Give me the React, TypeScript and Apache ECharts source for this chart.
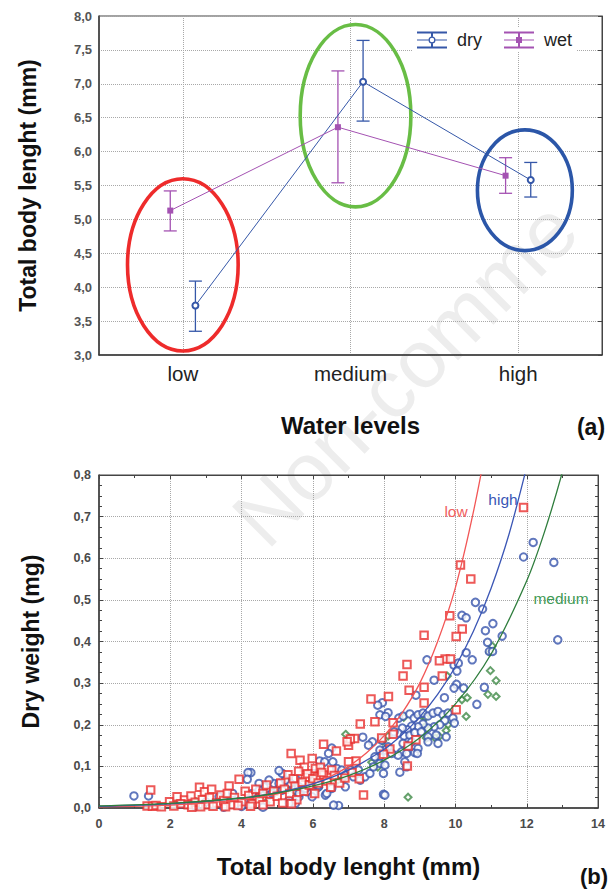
import React, { useEffect, useRef } from 'react';
import * as echarts from 'echarts';

// ---------- (a) water level means with error bars ----------
const WATER_LEVELS = ['low', 'medium', 'high'];
const DRY_MEAN = [3.73, 7.03, 5.58];
const DRY_LOWER = [3.35, 6.45, 5.33];
const DRY_UPPER = [4.09, 7.64, 5.84];
const WET_MEAN = [5.13, 6.36, 5.645];
const WET_LOWER = [4.83, 5.54, 5.385];
const WET_UPPER = [5.42, 7.19, 5.91];

// highlight ellipses (level index, length in mm, half-width in level units, half-height in mm)
const HL_LEVEL = [0, 1.03, 2.04];
const HL_LENGTH = [4.33, 6.53, 5.43];
const HL_HALF_W = [0.33, 0.33, 0.283];
const HL_HALF_H = [1.27, 1.345, 0.89];
const HL_COLORS = ['#ee2b2b', '#68bd45', '#2b56a8'];

// ---------- (b) dry weight vs total body length ----------
const LOW_POINTS = [
  [11.91, 0.722], [10.14, 0.584], [10.43, 0.55], [9.84, 0.462], [10.19, 0.43], [10.02, 0.412], [9.12, 0.415],
  [9.71, 0.358], [9.86, 0.358], [9.55, 0.354], [8.64, 0.345], [8.53, 0.317], [9.63, 0.317], [8.7, 0.283],
  [9.12, 0.29], [8.12, 0.268], [9.12, 0.252], [10.02, 0.236], [8.25, 0.205], [7.93, 0.168], [8.25, 0.177],
  [8.16, 0.142], [7.98, 0.129], [8.67, 0.149], [8.89, 0.164], [8.65, 0.101], [7.63, 0.262], [7.33, 0.202],
  [7.74, 0.207], [7.0, 0.151], [7.17, 0.167], [7.05, 0.166], [6.96, 0.159], [6.3, 0.153], [6.66, 0.137],
  [5.39, 0.131], [5.64, 0.115], [5.76, 0.098], [5.79, 0.074], [6.07, 0.095], [6.21, 0.098], [6.12, 0.075],
  [6.3, 0.079], [6.53, 0.091], [7.21, 0.113], [7.0, 0.111], [7.42, 0.031], [5.98, 0.119],
  [1.45, 0.043], [1.35, 0.005], [1.5, 0.004], [1.6, 0.006], [1.75, 0.003], [1.98, 0.015], [2.19, 0.027],
  [2.4, 0.019], [2.58, 0.029], [2.82, 0.05], [2.96, 0.039], [3.16, 0.045], [3.42, 0.031], [3.65, 0.053],
  [3.93, 0.069], [2.1, 0.005], [2.3, 0.01], [2.5, 0.008], [2.7, 0.014], [2.9, 0.02], [3.0, 0.008],
  [3.1, 0.025], [3.3, 0.012], [3.5, 0.018], [3.6, 0.035], [3.7, 0.008], [3.8, 0.025], [4.0, 0.015],
  [4.1, 0.04], [4.2, 0.03], [4.3, 0.01], [4.4, 0.045], [4.5, 0.022], [4.6, 0.035], [4.7, 0.055],
  [4.8, 0.015], [4.9, 0.04], [5.0, 0.028], [5.1, 0.06], [5.15, 0.012], [5.2, 0.045], [5.3, 0.08],
  [5.35, 0.035], [5.45, 0.07], [5.5, 0.052], [5.55, 0.02], [5.6, 0.088], [5.7, 0.062], [5.75, 0.04],
  [5.85, 0.082], [5.9, 0.055], [6.0, 0.07], [6.05, 0.035], [6.15, 0.06], [6.25, 0.085], [6.4, 0.065],
  [6.5, 0.05], [6.6, 0.078], [6.75, 0.06], [6.9, 0.072], [7.1, 0.085], [7.3, 0.07], [2.6, 0.002],
  [3.2, 0.004], [3.9, 0.006], [4.6, 0.008], [5.4, 0.01], [4.25, 0.004], [2.85, 0.003], [3.55, 0.003],
];
const HIGH_POINTS = [
  [12.18, 0.638], [11.91, 0.603], [12.76, 0.59], [10.56, 0.494], [10.76, 0.478], [10.18, 0.463], [10.3, 0.457],
  [11.05, 0.443], [10.84, 0.426], [11.31, 0.413], [12.87, 0.404], [10.9, 0.398], [10.95, 0.376], [11.04, 0.376],
  [10.3, 0.373], [9.96, 0.343], [10.08, 0.348], [10.47, 0.356], [9.2, 0.356], [10.04, 0.329], [10.03, 0.297],
  [10.23, 0.288], [8.89, 0.271], [9.4, 0.307], [9.69, 0.265], [9.96, 0.288], [10.81, 0.29], [10.6, 0.249],
  [7.95, 0.253], [8.11, 0.229], [7.88, 0.224], [8.04, 0.22], [8.41, 0.216], [8.53, 0.221], [8.72, 0.226],
  [8.84, 0.216], [8.95, 0.224], [9.09, 0.228], [9.23, 0.221], [9.37, 0.228], [9.51, 0.232], [9.65, 0.224],
  [9.79, 0.228], [9.93, 0.216], [9.97, 0.204], [9.7, 0.21], [9.56, 0.2], [9.4, 0.195], [9.23, 0.192],
  [9.09, 0.202], [8.95, 0.195], [8.77, 0.197], [8.65, 0.188], [8.51, 0.192], [8.39, 0.18], [8.28, 0.183],
  [8.56, 0.173], [8.72, 0.175], [8.86, 0.181], [9.04, 0.183], [9.23, 0.171], [9.46, 0.175], [9.74, 0.171],
  [8.77, 0.159], [8.53, 0.155], [8.67, 0.147], [8.49, 0.135], [8.63, 0.131], [8.86, 0.133], [8.95, 0.143],
  [9.23, 0.159], [9.51, 0.155], [8.39, 0.127], [8.11, 0.147], [8.21, 0.131], [7.93, 0.163], [8.02, 0.139],
  [7.88, 0.123], [8.58, 0.111], [8.63, 0.099], [8.93, 0.131], [8.44, 0.086], [7.98, 0.033], [8.02, 0.031],
  [7.82, 0.247], [7.4, 0.17], [7.67, 0.159], [7.56, 0.151], [7.74, 0.123], [7.88, 0.107], [8.02, 0.103],
  [7.88, 0.139], [6.53, 0.144], [6.44, 0.131], [6.19, 0.113], [6.33, 0.111], [6.56, 0.111], [6.67, 0.095],
  [6.81, 0.091], [6.91, 0.079], [7.05, 0.091], [7.14, 0.075], [7.33, 0.067], [7.46, 0.075], [7.6, 0.083],
  [7.28, 0.091], [7.7, 0.099], [7.98, 0.083], [6.21, 0.087], [6.02, 0.083], [5.93, 0.055], [5.84, 0.071],
  [5.7, 0.063], [5.61, 0.051], [5.51, 0.071], [5.37, 0.059], [5.23, 0.067], [5.14, 0.083], [5.05, 0.09],
  [4.91, 0.059], [4.77, 0.067], [4.63, 0.051], [4.49, 0.059], [4.26, 0.085], [4.18, 0.085], [4.16, 0.069],
  [5.33, 0.019], [5.61, 0.027], [6.02, 0.035], [6.35, 0.031], [6.72, 0.006], [4.3, 0.035], [4.77, 0.031],
  [5.14, 0.043], [5.51, 0.011], [5.84, 0.039], [6.16, 0.051], [6.53, 0.047], [6.91, 0.051], [3.0, 0.015],
  [3.37, 0.027], [3.75, 0.035], [4.26, 0.015], [4.49, 0.043], [4.86, 0.035], [5.05, 0.059], [5.33, 0.011],
  [5.61, 0.035], [5.79, 0.047], [5.98, 0.027], [6.16, 0.055], [6.39, 0.035], [6.58, 0.007], [2.3, 0.01],
  [2.7, 0.004], [3.2, 0.008], [3.5, 0.002], [4.0, 0.004], [4.6, 0.002], [0.98, 0.029], [1.39, 0.029],
];
const MEDIUM_POINTS = [
  [11.03, 0.389], [10.96, 0.374], [9.77, 0.317], [10.98, 0.33], [10.91, 0.273], [11.14, 0.268], [11.14, 0.306],
  [10.18, 0.26], [10.33, 0.265], [10.3, 0.22], [8.67, 0.026], [8.11, 0.173], [8.55, 0.218], [9.14, 0.195],
  [9.18, 0.168], [9.79, 0.2], [9.74, 0.186], [9.55, 0.172], [9.06, 0.221], [9.16, 0.218], [9.43, 0.168],
  [6.92, 0.177], [7.96, 0.161], [7.65, 0.11], [7.82, 0.098], [6.7, 0.067], [6.84, 0.07], [4.58, 0.033],
  [4.68, 0.013], [5.05, 0.046], [5.42, 0.05], [5.88, 0.05], [6.16, 0.049], [2.17, 0.011], [2.72, 0.015],
  [3.65, 0.019], [4.45, 0.03], [5.0, 0.045], [5.5, 0.04], [6.0, 0.045],
];

// fitted curves
const LOW_FIT = [
  [0, 0.003], [2, 0.007], [4, 0.02], [5, 0.034], [6, 0.058], [6.5, 0.076], [7, 0.1], [7.5, 0.132],
  [8, 0.174], [8.5, 0.228], [9, 0.3], [9.5, 0.4], [10, 0.53], [10.5, 0.71], [11, 0.93],
];
const HIGH_FIT = [
  [0, 0.004], [2, 0.01], [4, 0.024], [5, 0.037], [6, 0.058], [7, 0.091], [8, 0.141], [8.5, 0.176],
  [9, 0.219], [9.5, 0.273], [10, 0.34], [10.5, 0.424], [11, 0.528], [11.5, 0.657], [12, 0.82], [12.3, 0.93],
];
const MEDIUM_FIT = [
  [0, 0.005], [2, 0.011], [4, 0.024], [5, 0.036], [6, 0.053], [7, 0.078], [8, 0.115], [9, 0.169],
  [10, 0.25], [11, 0.37], [12, 0.546], [12.5, 0.664], [13, 0.807], [13.3, 0.91],
];

const FONT = 'Arial, "Liberation Sans", Helvetica, sans-serif';
const BLUE = '#3557a8';
const PURPLE = '#a452b2';
const RED_PT = '#e8302e';
const BLUE_PT = '#3855ad';
const GREEN_PT = '#3e8a46';
const OFFSET = 0.075;
const GRID_LINE = { color: '#a8a8a8', type: 'dotted' as const, width: 1 };
const AXIS_LINE = { color: '#3a3a3a', width: 1.5 };

const fmt = (v: number) => v.toFixed(1).replace('.', ',');

const DRY_ICON =
  'path://M0 0H30V2H0Z M0 15H30V17H0Z M14 2H16V5H14Z M14 12H16V15H14Z M0 8H11.5V9H0Z M18.5 8H30V9H18.5Z ' +
  'M11.5 8.5A3.5 3.5 0 1 1 18.5 8.5A3.5 3.5 0 1 1 11.5 8.5Z M12.8 8.5A2.2 2.2 0 1 0 17.2 8.5A2.2 2.2 0 1 0 12.8 8.5Z';
const WET_ICON =
  'path://M0 0H30V2H0Z M0 15H30V17H0Z M14 2H16V15H14Z M0 8H30V9H0Z M12 5.5H18V11.5H12Z';

function errorSeries(name: string, lows: number[], highs: number[], offset: number, color: string) {
  return {
    type: 'custom',
    name,
    xAxisIndex: 1,
    yAxisIndex: 0,
    z: 3,
    silent: true,
    itemStyle: { color },
    data: lows.map((lo, i) => [i + offset, lo, highs[i]]),
    renderItem: (_p: any, api: any) => {
      const x = api.value(0);
      const top = api.coord([x, api.value(2)]);
      const bot = api.coord([x, api.value(1)]);
      const w = 6.5;
      const style = { stroke: color, lineWidth: 1.3, fill: 'none' };
      return {
        type: 'group',
        children: [
          { type: 'line', shape: { x1: top[0], y1: top[1], x2: bot[0], y2: bot[1] }, style },
          { type: 'line', shape: { x1: top[0] - w, y1: top[1], x2: top[0] + w, y2: top[1] }, style },
          { type: 'line', shape: { x1: bot[0] - w, y1: bot[1], x2: bot[0] + w, y2: bot[1] }, style },
        ],
      };
    },
  };
}

function buildOption() {
  return {
    animation: false,
    backgroundColor: '#ffffff',
    textStyle: { fontFamily: FONT },
    grid: [
      { left: 99, top: 16, width: 503, height: 339, show: true, borderColor: '#444', borderWidth: 1 },
      { left: 99, top: 475, width: 502, height: 333, show: true, borderColor: '#444', borderWidth: 1 },
    ],
    legend: {
      data: [
        { name: 'dry', icon: DRY_ICON, itemStyle: { color: BLUE } },
        { name: 'wet', icon: WET_ICON, itemStyle: { color: PURPLE } },
      ],
      left: 412,
      top: 28,
      itemWidth: 30,
      itemHeight: 17,
      itemGap: 22,
      padding: [3, 5],
      backgroundColor: '#ffffff',
      selectedMode: false,
      textStyle: { fontSize: 18, color: '#222', fontFamily: FONT, padding: [0, 0, 0, 5] },
    },
    xAxis: [
      {
        type: 'category',
        gridIndex: 0,
        data: WATER_LEVELS,
        position: 'bottom',
        axisLine: { show: true, onZero: false, lineStyle: AXIS_LINE },
        axisTick: { show: false },
        splitLine: { show: false },
        axisLabel: { fontSize: 20.5, color: '#222', fontFamily: FONT, margin: 8 },
        name: 'Water levels',
        nameLocation: 'middle',
        nameGap: 58,
        nameTextStyle: { fontSize: 24, fontWeight: 'bold', color: '#111', fontFamily: FONT },
      },
      {
        type: 'value',
        gridIndex: 0,
        min: -0.5,
        max: 2.5,
        splitNumber: 3,
        position: 'top',
        axisLine: { show: false, onZero: false },
        axisTick: { show: false },
        axisLabel: { show: false },
        splitLine: { show: true, lineStyle: GRID_LINE },
      },
      {
        type: 'value',
        gridIndex: 1,
        min: 0,
        max: 14,
        interval: 2,
        position: 'bottom',
        axisLine: { show: true, onZero: false, lineStyle: AXIS_LINE },
        axisTick: { show: true, inside: true, length: 4, lineStyle: { color: '#444' } },
        minorTick: { show: true, splitNumber: 2, length: 3, lineStyle: { color: '#444' } },
        axisLabel: { fontSize: 12.5, fontWeight: 'bold', color: '#4a4a4a', fontFamily: FONT, margin: 9 },
        splitLine: { show: true, lineStyle: GRID_LINE },
        name: 'Total body lenght (mm)',
        nameLocation: 'middle',
        nameGap: 46,
        nameTextStyle: { fontSize: 24, fontWeight: 'bold', color: '#111', fontFamily: FONT },
      },
      {
        type: 'value',
        gridIndex: 1,
        min: 0,
        max: 14,
        interval: 2,
        position: 'top',
        axisLine: { show: true, onZero: false, lineStyle: { color: '#444', width: 1 } },
        axisTick: { show: true, inside: true, length: 4, lineStyle: { color: '#444' } },
        minorTick: { show: true, splitNumber: 2, length: 3, lineStyle: { color: '#444' } },
        axisLabel: { show: false },
        splitLine: { show: false },
      },
    ],
    yAxis: [
      {
        type: 'value',
        gridIndex: 0,
        min: 3,
        max: 8,
        interval: 0.5,
        position: 'left',
        axisLine: { show: true, onZero: false, lineStyle: AXIS_LINE },
        axisTick: { show: false },
        axisLabel: { formatter: fmt, fontSize: 13, fontWeight: 'bold', color: '#555', fontFamily: FONT, margin: 7 },
        splitLine: { show: true, lineStyle: GRID_LINE },
        name: 'Total body lenght (mm)',
        nameLocation: 'middle',
        nameGap: 60,
        nameTextStyle: { fontSize: 23, fontWeight: 'bold', color: '#111', fontFamily: FONT },
      },
      {
        type: 'value',
        gridIndex: 0,
        min: 3,
        max: 8,
        interval: 0.5,
        position: 'right',
        axisLine: { show: true, onZero: false, lineStyle: { color: '#444', width: 1 } },
        axisTick: { show: true, inside: true, length: 4, lineStyle: { color: '#444' } },
        axisLabel: { show: false },
        splitLine: { show: false },
      },
      {
        type: 'value',
        gridIndex: 1,
        min: 0,
        max: 0.8,
        interval: 0.1,
        position: 'left',
        axisLine: { show: true, onZero: false, lineStyle: AXIS_LINE },
        axisTick: { show: true, inside: true, length: 4, lineStyle: { color: '#444' } },
        minorTick: { show: true, splitNumber: 4, length: 3, lineStyle: { color: '#444' } },
        axisLabel: { formatter: fmt, fontSize: 12.5, fontWeight: 'bold', color: '#4a4a4a', fontFamily: FONT, margin: 8 },
        splitLine: { show: true, lineStyle: GRID_LINE },
        name: 'Dry weight (mg)',
        nameLocation: 'middle',
        nameGap: 57,
        nameTextStyle: { fontSize: 23, fontWeight: 'bold', color: '#111', fontFamily: FONT },
      },
      {
        type: 'value',
        gridIndex: 1,
        min: 0,
        max: 0.8,
        interval: 0.1,
        position: 'right',
        axisLine: { show: true, onZero: false, lineStyle: { color: '#444', width: 1 } },
        axisTick: { show: true, inside: true, length: 4, lineStyle: { color: '#444' } },
        minorTick: { show: true, splitNumber: 4, length: 3, lineStyle: { color: '#444' } },
        axisLabel: { show: false },
        splitLine: { show: false },
      },
    ],
    graphic: [
      {
        type: 'text',
        z: -10,
        silent: true,
        x: 276,
        y: 560,
        rotation: Math.PI / 4,
        style: {
          text: 'Non-comme',
          fontSize: 82,
          fontFamily: FONT,
          fill: '#ededed',
          textAlign: 'left',
          textVerticalAlign: 'bottom',
        },
      },
      {
        type: 'text',
        x: 591,
        y: 427,
        style: { text: '(a)', fontSize: 23, fontWeight: 'bold', fill: '#111', fontFamily: FONT, textAlign: 'center', textVerticalAlign: 'middle' },
      },
      {
        type: 'text',
        x: 594,
        y: 876,
        style: { text: '(b)', fontSize: 22, fontWeight: 'bold', fill: '#111', fontFamily: FONT, textAlign: 'center', textVerticalAlign: 'middle' },
      },
      {
        type: 'text',
        x: 456,
        y: 511,
        z: 10,
        style: { text: 'low', fontSize: 15.5, fill: '#f06060', fontFamily: FONT, textAlign: 'center', textVerticalAlign: 'middle' },
      },
      {
        type: 'text',
        x: 503,
        y: 499,
        z: 10,
        style: { text: 'high', fontSize: 15.5, fill: '#3a56b5', fontFamily: FONT, textAlign: 'center', textVerticalAlign: 'middle' },
      },
      {
        type: 'text',
        x: 561,
        y: 598,
        z: 10,
        style: { text: 'medium', fontSize: 15.5, fill: '#3f9a55', fontFamily: FONT, textAlign: 'center', textVerticalAlign: 'middle' },
      },
    ],
    series: [
      errorSeries('dry', DRY_LOWER, DRY_UPPER, OFFSET, BLUE),
      errorSeries('wet', WET_LOWER, WET_UPPER, -OFFSET, PURPLE),
      {
        type: 'custom',
        xAxisIndex: 1,
        yAxisIndex: 0,
        silent: true,
        z: 2,
        data: HL_LEVEL.map((lv, i) => [lv, HL_LENGTH[i], HL_HALF_W[i], HL_HALF_H[i]]),
        renderItem: (p: any, api: any) => {
          const c = api.coord([api.value(0), api.value(1)]);
          const s = api.size([api.value(2), api.value(3)]);
          return {
            type: 'ellipse',
            shape: { cx: c[0], cy: c[1], rx: s[0], ry: s[1] },
            style: { fill: 'none', stroke: HL_COLORS[p.dataIndex], lineWidth: 3.6 },
          };
        },
      },
      {
        type: 'line',
        name: 'dry',
        xAxisIndex: 1,
        yAxisIndex: 0,
        z: 4,
        data: DRY_MEAN.map((m, i) => [i + OFFSET, m]),
        symbol: 'emptyCircle',
        symbolSize: 6,
        itemStyle: { color: BLUE, borderWidth: 1.1 },
        lineStyle: { color: BLUE, width: 1 },
      },
      {
        type: 'line',
        name: 'wet',
        xAxisIndex: 1,
        yAxisIndex: 0,
        z: 4,
        data: WET_MEAN.map((m, i) => [i - OFFSET, m]),
        symbol: 'rect',
        symbolSize: 6,
        itemStyle: { color: PURPLE },
        lineStyle: { color: PURPLE, width: 1 },
      },
      {
        type: 'scatter',
        name: 'medium',
        xAxisIndex: 2,
        yAxisIndex: 2,
        z: 3,
        data: MEDIUM_POINTS,
        symbol: 'emptyDiamond',
        symbolSize: 7,
        itemStyle: { color: GREEN_PT, borderWidth: 1.1 },
      },
      {
        type: 'scatter',
        name: 'high',
        xAxisIndex: 2,
        yAxisIndex: 2,
        z: 3,
        data: HIGH_POINTS,
        symbol: 'emptyCircle',
        symbolSize: 7.5,
        itemStyle: { color: BLUE_PT, borderWidth: 1.4 },
      },
      {
        type: 'scatter',
        name: 'low',
        xAxisIndex: 2,
        yAxisIndex: 2,
        z: 3,
        data: LOW_POINTS,
        symbol: 'emptyRect',
        symbolSize: 7.5,
        itemStyle: { color: RED_PT, borderWidth: 1.4 },
      },
      {
        type: 'line',
        name: 'low fit',
        xAxisIndex: 2,
        yAxisIndex: 2,
        z: 5,
        data: LOW_FIT,
        smooth: 0.3,
        showSymbol: false,
        clip: true,
        lineStyle: { color: '#f25656', width: 1.3 },
      },
      {
        type: 'line',
        name: 'high fit',
        xAxisIndex: 2,
        yAxisIndex: 2,
        z: 5,
        data: HIGH_FIT,
        smooth: 0.3,
        showSymbol: false,
        clip: true,
        lineStyle: { color: '#3b56b5', width: 1.3 },
      },
      {
        type: 'line',
        name: 'medium fit',
        xAxisIndex: 2,
        yAxisIndex: 2,
        z: 5,
        data: MEDIUM_FIT,
        smooth: 0.3,
        showSymbol: false,
        clip: true,
        lineStyle: { color: '#2e7d3c', width: 1.3 },
      },
    ],
  };
}

export default function App() {
  const ref = useRef<HTMLDivElement>(null);
  useEffect(() => {
    if (!ref.current) return;
    const chart = echarts.init(ref.current, null, { renderer: 'svg' });
    chart.setOption(buildOption() as any);
    return () => chart.dispose();
  }, []);
  return (
    <div
      ref={ref}
      style={{ position: 'fixed', left: 0, top: 0, width: 608, height: 890, background: '#ffffff' }}
    />
  );
}
